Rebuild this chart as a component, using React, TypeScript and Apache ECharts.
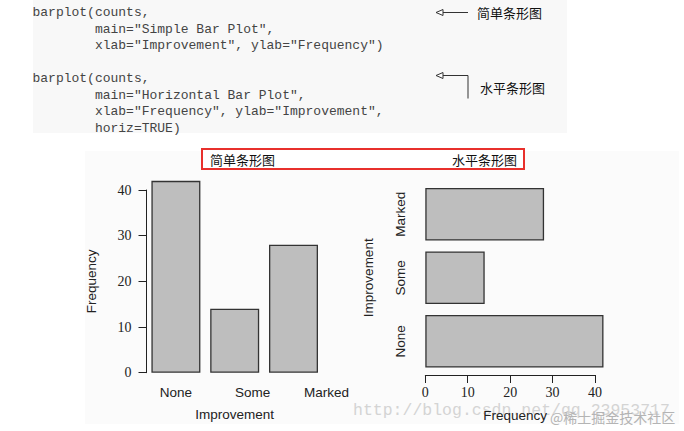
import { useEffect, useRef } from 'react';
import * as echarts from 'echarts';

const categories = ['None', 'Some', 'Marked'];
const counts = [42, 14, 28];
const valueTicks = [0, 10, 20, 30, 40];
const codeLines = [
  'barplot(counts,',
  '        main="Simple Bar Plot",',
  '        xlab="Improvement", ylab="Frequency")',
  '',
  'barplot(counts,',
  '        main="Horizontal Bar Plot",',
  '        xlab="Frequency", ylab="Improvement",',
  '        horiz=TRUE)',
];
const notes = ['简单条形图', '水平条形图'];
const watermarks = ['http://blog.csdn.net/qq_23953717', '@稀土掘金技术社区'];

const INK = '#222';
const SANS = 'Liberation Sans, Arial, sans-serif';
const SERIF = 'Liberation Serif, Times New Roman, serif';
const CJK = 'Noto Sans CJK SC, sans-serif';

export default function App() {
  const ref = useRef<HTMLDivElement>(null);

  useEffect(() => {
    if (!ref.current) return;
    const chart = echarts.init(ref.current, null, { renderer: 'svg' });
    const vMin = valueTicks[0];
    const vMax = valueTicks[valueTicks.length - 1];
    const vStep = valueTicks[1] - valueTicks[0];

    const valueAxis = {
      type: 'value',
      min: vMin,
      max: vMax,
      interval: vStep,
      splitLine: { show: false },
      axisLine: { show: true, lineStyle: { color: INK, width: 1 } },
      axisTick: { show: true, length: 8, lineStyle: { color: INK, width: 1 } },
      axisLabel: { fontFamily: SERIF, fontSize: 14, color: INK },
      nameLocation: 'middle',
      nameTextStyle: { fontFamily: SANS, fontSize: 13.5, color: INK },
    };
    const catAxis = {
      type: 'category',
      data: categories,
      axisLine: { show: false },
      axisTick: { show: false },
      nameLocation: 'middle',
      nameTextStyle: { fontFamily: SANS, fontSize: 13.5, color: INK },
    };
    const barStyle = { color: '#bebebe', borderColor: '#333', borderWidth: 1.3 };

    chart.setOption({
      animation: false,
      backgroundColor: '#fff',
      grid: [
        { left: 146.5, top: 190, width: 176.4, height: 182.7, outerBoundsMode: 'none' },
        { left: 425.3, top: 182.5, width: 169.7, height: 190.5, outerBoundsMode: 'none' },
      ],
      xAxis: [
        {
          ...catAxis,
          gridIndex: 0,
          name: 'Improvement',
          nameGap: 35,
          axisLabel: {
            interval: 0,
            hideOverlap: false,
            fontFamily: SANS,
            fontSize: 13.5,
            color: INK,
            margin: 13,
            formatter: (v: string, i: number) => `{c${i}|${v}}`,
            rich: {
              c0: { padding: [0, 0, 0, 0] },
              c1: { padding: [0, 0, 0, 36] },
              c2: { padding: [0, 0, 0, 66] },
            },
          },
        },
        {
          ...valueAxis,
          gridIndex: 1,
          offset: 2,
          name: 'Frequency',
          nameGap: 33,
          nameTextStyle: { ...valueAxis.nameTextStyle, padding: [0, 0, 0, 10] },
          axisLabel: { ...valueAxis.axisLabel, margin: 10 },
        },
      ],
      yAxis: [
        {
          ...valueAxis,
          gridIndex: 0,
          name: 'Frequency',
          nameGap: 48,
          axisLabel: { ...valueAxis.axisLabel, margin: 15 },
        },
        {
          ...catAxis,
          gridIndex: 1,
          name: 'Improvement',
          nameGap: 50,
          axisLabel: { interval: 0, fontFamily: SANS, fontSize: 13.5, color: INK, rotate: 90, margin: 18 },
        },
      ],
      series: [
        {
          type: 'bar',
          xAxisIndex: 0,
          yAxisIndex: 0,
          data: counts,
          barWidth: '83.3%',
          clip: false,
          itemStyle: barStyle,
        },
        {
          type: 'bar',
          xAxisIndex: 1,
          yAxisIndex: 1,
          data: counts,
          barWidth: '83%',
          clip: false,
          itemStyle: barStyle,
        },
      ],
      graphic: [
        { type: 'rect', z: -10, shape: { x: 33, y: 0, width: 534, height: 133 }, style: { fill: '#f8f8f8' } },
        { type: 'rect', z: -10, shape: { x: 85, y: 151, width: 594, height: 273 }, style: { fill: '#fbfbfb' } },
        {
          type: 'text',
          x: 32.5,
          y: 4.5,
          style: {
            text: codeLines.join('\n'),
            font: '13px "Liberation Mono", "Courier New", monospace',
            lineHeight: 16.5,
            fill: '#444',
          },
        },
        // arrows pointing at the code
        { type: 'polyline', shape: { points: [[442, 12.5], [468, 12.5]] }, style: { stroke: '#333', lineWidth: 1 } },
        { type: 'polygon', shape: { points: [[436, 12.5], [443, 9.5], [443, 15.5]] }, style: { fill: '#fff', stroke: '#333', lineWidth: 1 } },
        { type: 'polyline', shape: { points: [[442, 75.5], [468, 75.5], [468, 98.5]] }, style: { fill: 'none', stroke: '#333', lineWidth: 1 } },
        { type: 'polygon', shape: { points: [[436, 75.5], [443, 72.5], [443, 78.5]] }, style: { fill: '#fff', stroke: '#333', lineWidth: 1 } },
        { type: 'text', x: 477, y: 12.7, style: { text: notes[0], font: `13px ${CJK}`, fill: '#111', verticalAlign: 'middle' } },
        { type: 'text', x: 480, y: 87.3, style: { text: notes[1], font: `13px ${CJK}`, fill: '#111', verticalAlign: 'middle' } },
        // red title box
        { type: 'rect', shape: { x: 202, y: 149, width: 322, height: 20 }, style: { fill: '#fff', stroke: '#e8302c', lineWidth: 2 } },
        { type: 'text', x: 210, y: 159, style: { text: notes[0], font: `13px ${CJK}`, fill: '#111', verticalAlign: 'middle' } },
        { type: 'text', x: 452, y: 159, style: { text: notes[1], font: `13px ${CJK}`, fill: '#111', verticalAlign: 'middle' } },
        // watermarks
        { type: 'text', z: -5, x: 353, y: 410, style: { text: watermarks[0], font: '16.5px "Liberation Mono", monospace', fill: '#d4d4d4', verticalAlign: 'middle' } },
        { type: 'text', z: 10, x: 550, y: 417, style: { text: watermarks[1], font: `14px ${CJK}`, fill: '#b4b4b4', verticalAlign: 'middle' } },
      ],
    });

    return () => {
      chart.dispose();
    };
  }, []);

  return <div ref={ref} style={{ position: 'fixed', left: 0, top: 0, width: 684, height: 431 }} />;
}
